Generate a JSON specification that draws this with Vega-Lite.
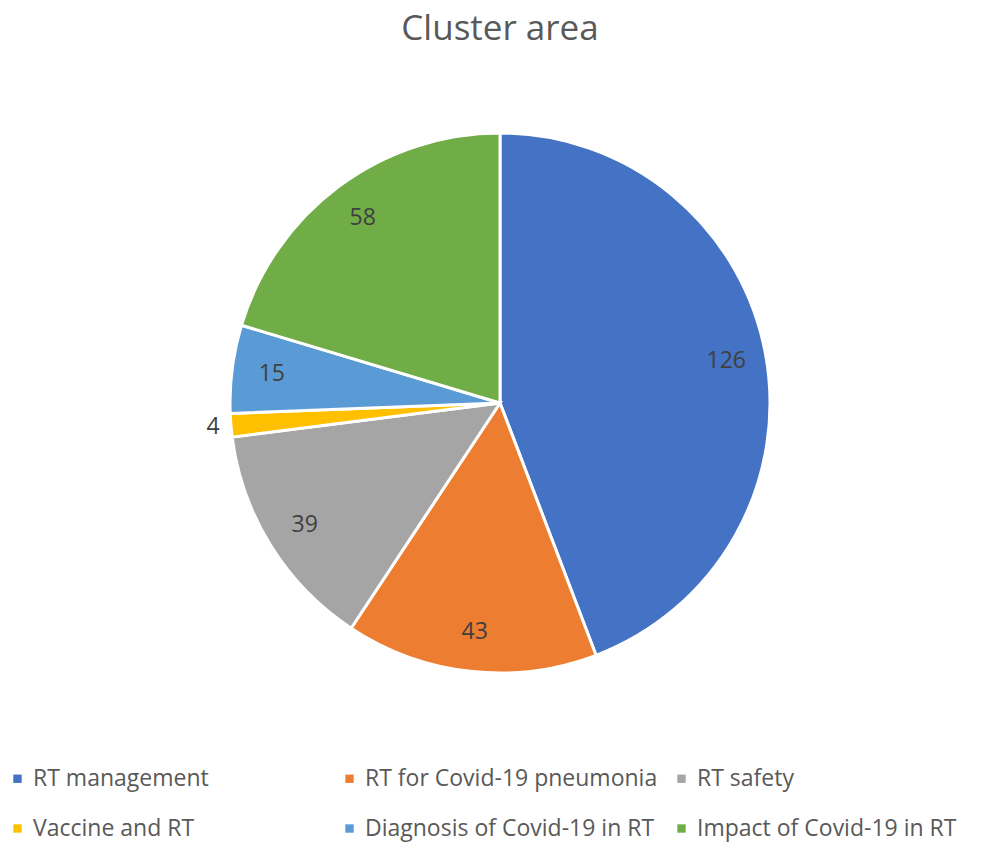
{
  "$schema": "https://vega.github.io/schema/vega-lite/v6.json",
  "autosize": {"type": "none"},
  "width": 972,
  "height": 686,
  "padding": {"left": 14, "top": 60, "right": 0, "bottom": 97},
  "background": "white",
  "title": {"text": "Cluster area", "fontSize": 35, "font": "Open Sans, sans-serif", "fontWeight": "normal", "color": "#595959", "offset": 13, "anchor": "middle"},
  "data": {"values": [
    {"idx": 1, "cluster": "RT management", "value": 126},
    {"idx": 2, "cluster": "RT for Covid-19 pneumonia", "value": 43},
    {"idx": 3, "cluster": "RT safety", "value": 39},
    {"idx": 4, "cluster": "Vaccine and RT", "value": 4},
    {"idx": 5, "cluster": "Diagnosis of Covid-19 in RT", "value": 15},
    {"idx": 6, "cluster": "Impact of Covid-19 in RT", "value": 58}
  ]},
  "encoding": {
    "theta": {"field": "value", "type": "quantitative", "stack": true},
    "order": {"field": "idx", "type": "quantitative"}
  },
  "layer": [
    {
      "mark": {"type": "arc", "outerRadius": 270, "stroke": "white", "strokeWidth": 3},
      "encoding": {
        "color": {
          "field": "cluster", "type": "nominal",
          "scale": {
            "domain": ["RT management", "RT for Covid-19 pneumonia", "RT safety", "Vaccine and RT", "Diagnosis of Covid-19 in RT", "Impact of Covid-19 in RT"],
            "range": ["#4472C4", "#ED7D31", "#A5A5A5", "#FFC000", "#5B9BD5", "#70AD47"]
          },
          "legend": {
            "title": null, "orient": "none", "legendX": -8, "legendY": 707,
            "direction": "horizontal", "columns": 3, "gridAlign": "all",
            "symbolType": "square", "symbolSize": 70, "symbolStrokeWidth": 0,
            "labelFontSize": 23, "labelFont": "Open Sans, sans-serif",
            "labelColor": "#595959", "labelOffset": 4, "labelLimit": 400,
            "columnPadding": 12, "rowPadding": 26
          }
        }
      }
    },
    {
      "mark": {"type": "text", "radius": 230, "fontSize": 23, "font": "Open Sans, sans-serif", "color": "#404040"},
      "encoding": {
        "text": {"field": "value", "type": "quantitative"},
        "opacity": {"condition": {"test": "datum.value < 5", "value": 0}, "value": 1}
      }
    },
    {
      "mark": {"type": "text", "radius": 288, "fontSize": 23, "font": "Open Sans, sans-serif", "color": "#404040"},
      "encoding": {
        "text": {"field": "value", "type": "quantitative"},
        "opacity": {"condition": {"test": "datum.value < 5", "value": 1}, "value": 0}
      }
    }
  ]
}
